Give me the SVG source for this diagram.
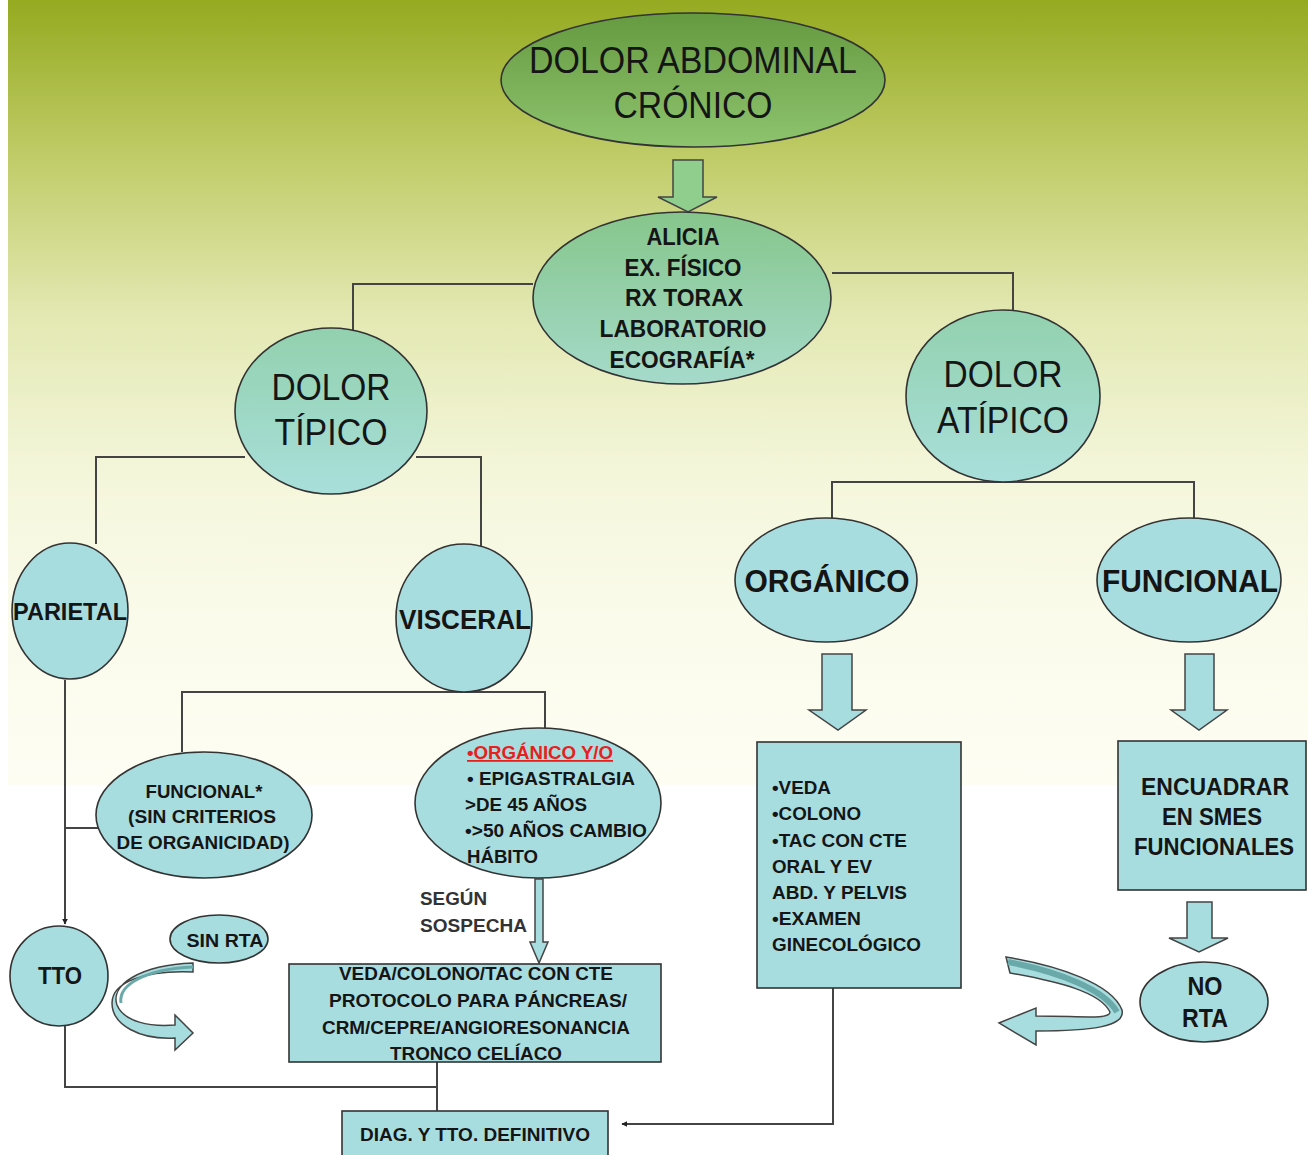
<svg xmlns="http://www.w3.org/2000/svg" width="1308" height="1155" viewBox="0 0 1308 1155">
<defs>
<linearGradient id="bg" x1="0" y1="0" x2="0" y2="1">
<stop offset="0" stop-color="#95aa20"/>
<stop offset="0.2" stop-color="#c0cc68"/>
<stop offset="0.4" stop-color="#e3e8b2"/>
<stop offset="0.6" stop-color="#f4f6da"/>
<stop offset="0.8" stop-color="#fbfbec"/>
<stop offset="1" stop-color="#fdfdf3"/>
</linearGradient>
<linearGradient id="gTop" x1="0" y1="0" x2="0" y2="1">
<stop offset="0" stop-color="#659a40"/>
<stop offset="1" stop-color="#8fc46f"/>
</linearGradient>
<linearGradient id="gAli" x1="0" y1="0" x2="0" y2="1">
<stop offset="0" stop-color="#86c68b"/>
<stop offset="1" stop-color="#a5dacb"/>
</linearGradient>
<linearGradient id="gDol" x1="0" y1="0" x2="0" y2="1">
<stop offset="0" stop-color="#92d1ae"/>
<stop offset="1" stop-color="#a9dfdb"/>
</linearGradient>
<marker id="ah" viewBox="0 0 10 10" refX="9" refY="5" markerWidth="6" markerHeight="6" orient="auto" markerUnits="userSpaceOnUse">
<path d="M0,0 L10,5 L0,10 Z" fill="#222"/>
</marker>
<style>
.ln{stroke:#444;stroke-width:2;fill:none}
.nd{stroke:#333;stroke-width:1.6}
.tl{fill:#a8dde0}
.t{font-family:"Liberation Sans",Arial,sans-serif;fill:#151515;text-anchor:middle}
.b{font-weight:bold}
.l{text-anchor:start}
.ba{stroke:#444;stroke-width:1.5;fill:#a8dde0}
</style>
</defs>
<rect x="0" y="0" width="1308" height="1155" fill="#ffffff"/>
<rect x="8" y="0" width="1300" height="785" fill="url(#bg)"/>

<g id="connectors">
<path class="ln" d="M533,284 H353 V343"/>
<path class="ln" d="M832,273 H1013 V311"/>
<path class="ln" d="M245,457 H96 V544"/>
<path class="ln" d="M416,457 H481 V546"/>
<path class="ln" d="M182,752 V692 H545 V729"/>
<path class="ln" d="M65,680 V924" marker-end="url(#ah)"/>
<path class="ln" d="M65,828 H98"/>
<path class="ln" d="M65,1025 V1087 H437"/>
<path class="ln" d="M437,1062 V1111"/>
<path class="ln" d="M1013,482 H832 V519"/>
<path class="ln" d="M1013,482 H1194 V519"/>
<path class="ln" d="M833,988 V1124 H622" marker-end="url(#ah)"/>
<path class="ba" style="fill:#8fce8c" d="M673,160 H703 V197 H717 L688,212 L658,197 H673 Z"/>
<path class="ba" d="M822,654 H852 V710 H866 L838,730 L809,710 H822 Z"/>
<path class="ba" d="M1185,654 H1214 V710 H1227 L1199,730 L1171,710 H1185 Z"/>
<path class="ba" d="M1187,902 H1212 V938 H1228 L1199,952 L1169,938 H1187 Z"/>
<path class="ba" d="M535,879 H543 V942 H548 L539,963 L530,942 H535 Z"/>
<path class="ba" d="M193,963 C140,965 110,985 117,1005 C124,1022 150,1027 175,1025 L175,1015 L193,1033 L175,1050 L175,1038 C140,1040 112,1025 112,1003 C112,982 145,970 193,972 Z"/>
<path d="M193,967 C145,969 118,985 121,1003" fill="none" stroke="#6aa9aa" stroke-width="3"/>
<path class="ba" d="M1006,957 C1060,966 1112,984 1122,1010 C1126,1027 1090,1031 1036,1031 L1036,1045 L999,1023 L1036,1008 L1036,1016 C1080,1016 1110,1020 1110,1012 C1100,992 1060,982 1010,973 Z"/>
<path d="M1008,962 C1060,972 1105,990 1117,1012" fill="none" stroke="#6aa9aa" stroke-width="6"/>
</g>

<g id="n-dolor-abdominal">
<ellipse class="nd" cx="693" cy="80" rx="192" ry="67" fill="url(#gTop)"/>
<text class="t" x="693" y="73" font-size="36" textLength="328" lengthAdjust="spacingAndGlyphs">DOLOR ABDOMINAL</text>
<text class="t" x="693" y="118" font-size="36" textLength="159" lengthAdjust="spacingAndGlyphs">CRÓNICO</text>
</g>

<g id="n-alicia">
<ellipse class="nd" cx="682" cy="298" rx="149" ry="86" fill="url(#gAli)"/>
<g class="t b" font-size="23">
<text x="683" y="245" textLength="73" lengthAdjust="spacingAndGlyphs">ALICIA</text>
<text x="683" y="276" textLength="117" lengthAdjust="spacingAndGlyphs">EX. FÍSICO</text>
<text x="684" y="306" textLength="118" lengthAdjust="spacingAndGlyphs">RX TORAX</text>
<text x="683" y="337" textLength="167" lengthAdjust="spacingAndGlyphs">LABORATORIO</text>
<text x="682" y="368" textLength="145" lengthAdjust="spacingAndGlyphs">ECOGRAFÍA*</text>
</g>
</g>

<g id="n-dolor-tipico">
<ellipse class="nd" cx="331" cy="411" rx="96" ry="83" fill="url(#gDol)"/>
<text class="t" x="331" y="400" font-size="37" textLength="119" lengthAdjust="spacingAndGlyphs">DOLOR</text>
<text class="t" x="331" y="445" font-size="37" textLength="113" lengthAdjust="spacingAndGlyphs">TÍPICO</text>
</g>

<g id="n-dolor-atipico">
<ellipse class="nd" cx="1003" cy="396" rx="97" ry="86" fill="url(#gDol)"/>
<text class="t" x="1003" y="387" font-size="37" textLength="119" lengthAdjust="spacingAndGlyphs">DOLOR</text>
<text class="t" x="1003" y="433" font-size="37" textLength="132" lengthAdjust="spacingAndGlyphs">ATÍPICO</text>
</g>

<g id="n-parietal">
<ellipse class="nd tl" cx="70" cy="611" rx="58" ry="68"/>
<text class="t b" x="70" y="620" font-size="23" textLength="114" lengthAdjust="spacingAndGlyphs">PARIETAL</text>
</g>

<g id="n-visceral">
<ellipse class="nd tl" cx="464" cy="618" rx="68" ry="74"/>
<text class="t b" x="465" y="629" font-size="27" textLength="132" lengthAdjust="spacingAndGlyphs">VISCERAL</text>
</g>

<g id="n-organico">
<ellipse class="nd tl" cx="826" cy="580" rx="91" ry="62"/>
<text class="t b" x="827" y="592" font-size="31" textLength="165" lengthAdjust="spacingAndGlyphs">ORGÁNICO</text>
</g>

<g id="n-funcional">
<ellipse class="nd tl" cx="1189" cy="580" rx="92" ry="62"/>
<text class="t b" x="1190" y="592" font-size="31" textLength="176" lengthAdjust="spacingAndGlyphs">FUNCIONAL</text>
</g>

<g id="n-funcional-sin">
<ellipse class="nd tl" cx="204" cy="815" rx="108" ry="63"/>
<g class="t b" font-size="19">
<text x="204" y="798" textLength="117" lengthAdjust="spacingAndGlyphs">FUNCIONAL*</text>
<text x="202" y="823" textLength="148" lengthAdjust="spacingAndGlyphs">(SIN CRITERIOS</text>
<text x="203" y="849" textLength="173" lengthAdjust="spacingAndGlyphs">DE ORGANICIDAD)</text>
</g>
</g>

<g id="n-organico-yo">
<ellipse class="nd tl" cx="538" cy="803" rx="123" ry="75"/>
<g class="t b l" font-size="18">
<text x="467" y="759" textLength="146" lengthAdjust="spacingAndGlyphs" style="fill:#e8201c" text-decoration="underline">•ORGÁNICO Y/O</text>
<text x="467" y="785" textLength="168" lengthAdjust="spacingAndGlyphs">• EPIGASTRALGIA</text>
<text x="465" y="811" textLength="122" lengthAdjust="spacingAndGlyphs">&gt;DE 45 AÑOS</text>
<text x="465" y="837" textLength="182" lengthAdjust="spacingAndGlyphs">•&gt;50 AÑOS CAMBIO</text>
<text x="467" y="863" textLength="71" lengthAdjust="spacingAndGlyphs">HÁBITO</text>
</g>
</g>

<g id="l-segun">
<text class="t b l" x="420" y="905" font-size="19" textLength="67" lengthAdjust="spacingAndGlyphs" style="fill:#333">SEGÚN</text>
<text class="t b l" x="420" y="932" font-size="19" textLength="107" lengthAdjust="spacingAndGlyphs" style="fill:#333">SOSPECHA</text>
</g>

<g id="n-veda-colono">
<rect class="nd tl" x="289" y="964" width="372" height="98"/>
<g class="t b" font-size="19">
<text x="476" y="980" textLength="274" lengthAdjust="spacingAndGlyphs">VEDA/COLONO/TAC CON CTE</text>
<text x="478" y="1007" textLength="298" lengthAdjust="spacingAndGlyphs">PROTOCOLO PARA PÁNCREAS/</text>
<text x="476" y="1034" textLength="308" lengthAdjust="spacingAndGlyphs">CRM/CEPRE/ANGIORESONANCIA</text>
<text x="476" y="1060" textLength="172" lengthAdjust="spacingAndGlyphs">TRONCO CELÍACO</text>
</g>
</g>

<g id="n-diag">
<rect class="nd tl" x="342" y="1111" width="266" height="50"/>
<text class="t b" x="475" y="1141" font-size="19" textLength="230" lengthAdjust="spacingAndGlyphs">DIAG. Y TTO. DEFINITIVO</text>
</g>

<g id="n-tto">
<ellipse class="nd tl" cx="59" cy="976" rx="49" ry="50"/>
<text class="t b" x="60" y="984" font-size="23" textLength="44" lengthAdjust="spacingAndGlyphs">TTO</text>
</g>

<g id="n-sin-rta">
<ellipse class="nd tl" cx="219" cy="939" rx="49" ry="24"/>
<text class="t b" x="225" y="947" font-size="18" textLength="77" lengthAdjust="spacingAndGlyphs">SIN RTA</text>
</g>

<g id="n-estudios">
<rect class="nd tl" x="757" y="742" width="204" height="246"/>
<g class="t b l" font-size="19">
<text x="772" y="794" textLength="59" lengthAdjust="spacingAndGlyphs">•VEDA</text>
<text x="772" y="820" textLength="89" lengthAdjust="spacingAndGlyphs">•COLONO</text>
<text x="772" y="847" textLength="135" lengthAdjust="spacingAndGlyphs">•TAC CON CTE</text>
<text x="772" y="873" textLength="100" lengthAdjust="spacingAndGlyphs">ORAL Y EV</text>
<text x="772" y="899" textLength="135" lengthAdjust="spacingAndGlyphs">ABD. Y PELVIS</text>
<text x="772" y="925" textLength="89" lengthAdjust="spacingAndGlyphs">•EXAMEN</text>
<text x="772" y="951" textLength="149" lengthAdjust="spacingAndGlyphs">GINECOLÓGICO</text>
</g>
</g>

<g id="n-encuadrar">
<rect class="nd tl" x="1118" y="741" width="188" height="149"/>
<g class="t b" font-size="24">
<text x="1215" y="795" textLength="148" lengthAdjust="spacingAndGlyphs">ENCUADRAR</text>
<text x="1212" y="825" textLength="100" lengthAdjust="spacingAndGlyphs">EN SMES</text>
<text x="1214" y="855" font-size="23" textLength="160" lengthAdjust="spacingAndGlyphs">FUNCIONALES</text>
</g>
</g>

<g id="n-no-rta">
<ellipse class="nd tl" cx="1204" cy="1002" rx="64" ry="40"/>
<text class="t b" x="1205" y="995" font-size="25" textLength="35" lengthAdjust="spacingAndGlyphs">NO</text>
<text class="t b" x="1205" y="1027" font-size="25" textLength="46" lengthAdjust="spacingAndGlyphs">RTA</text>
</g>
</svg>
